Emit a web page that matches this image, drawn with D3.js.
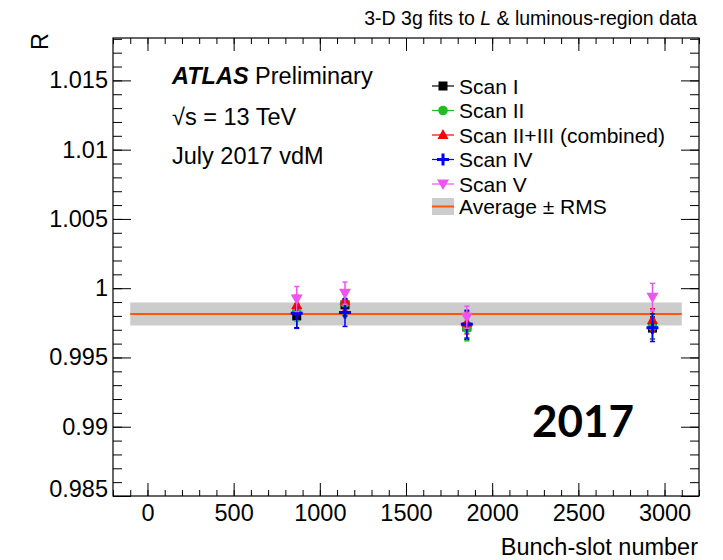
<!DOCTYPE html>
<html>
<head>
<meta charset="utf-8">
<script src="https://cdn.jsdelivr.net/npm/d3@7"></script>
<style>
  body { margin: 0; background: #fff; }
  svg { font-family: "Liberation Sans", Arial, sans-serif; }
  .axis path { display: none; }
  .axis line { stroke: #000; stroke-width: 1; }
  .axis text { font-size: 23.5px; fill: #000; font-family: "Liberation Sans", Arial, sans-serif; }
</style>
</head>
<body>
<div id="chart"></div>
<script>
// bunch slots that were measured
var bunchSlots = [866, 1146, 1853, 2930];

// R per scan
var scanI    = [0.99800, 0.99880, 0.99720, 0.99712];
var scanII   = [0.99843, 0.99892, 0.99710, 0.99722];
var scanII3  = [0.99879, 0.99910, 0.99750, 0.99771];
var scanIV   = [0.99820, 0.99824, 0.99740, 0.99715];
var scanV    = [0.99922, 0.99964, 0.99790, 0.99935];

// errors
var errI    = [0.00085, 0.0008, 0.0009, 0.0008];
var errII   = [0.0008, 0.0008, 0.0009, 0.0009];
var errII3  = [0.0007, 0.0007, 0.0008, 0.0008];
var errIV   = [0.0011, 0.0010, 0.0010, 0.0010];
var errV    = [0.0009, 0.0008, 0.0008, 0.0010];

var scanNames  = ["Scan I", "Scan II", "Scan II+III (combined)", "Scan IV", "Scan V"];
var scanColors = ["#000000", "#22bb22", "#ff0000", "#0000ff", "#ee55ee"];
var scanShapes = ["square", "circle", "triUp", "cross", "triDown"];

var average = 0.99814;
var rms = 0.00083;
var bandRange = [-100, 3100];

var xTicks = [0, 500, 1000, 1500, 2000, 2500, 3000];
var yTicks = [0.985, 0.99, 0.995, 1, 1.005, 1.01, 1.015];

var series = [scanI, scanII, scanII3, scanIV, scanV];
var errors = [errI, errII, errII3, errIV, errV];

var W = 723, H = 560;
var pLeft = 113, pRight = 699, pTop = 38, pBottom = 496;

var x = d3.scaleLinear().domain([-200, 3200]).range([pLeft, pRight]);
var y = d3.scaleLinear().domain([0.985, 1.01806]).range([pBottom, pTop]);

var svg = d3.select("#chart").append("svg")
  .attr("width", W)
  .attr("height", H);

// average +- rms band
svg.append("rect")
  .attr("x", x(bandRange[0]))
  .attr("y", y(average + rms))
  .attr("width", x(bandRange[1]) - x(bandRange[0]))
  .attr("height", y(average - rms) - y(average + rms))
  .attr("fill", "#cccccc");

svg.append("line")
  .attr("x1", x(bandRange[0])).attr("x2", x(bandRange[1]))
  .attr("y1", y(average)).attr("y2", y(average))
  .attr("stroke", "#ff5511").attr("stroke-width", 2);

// axes, ticks pointing inwards like ROOT
var xMinor = d3.range(-200, 3201, 100);
var yMinor = d3.range(0, 34).map(function(i){ return +(0.985 + i * 0.001).toFixed(3); });

svg.append("g").attr("class", "axis")
  .attr("transform", "translate(0," + pBottom + ")")
  .call(d3.axisBottom(x).tickValues(xTicks).tickSizeInner(-13).tickSizeOuter(0).tickPadding(8).tickFormat(d3.format("d")));
svg.append("g").attr("class", "axis")
  .attr("transform", "translate(0," + pBottom + ")")
  .call(d3.axisBottom(x).tickValues(xMinor).tickSizeInner(-6).tickSizeOuter(0).tickFormat(""));
svg.append("g").attr("class", "axis")
  .attr("transform", "translate(0," + pTop + ")")
  .call(d3.axisTop(x).tickValues(xTicks).tickSizeInner(-13).tickSizeOuter(0).tickFormat(""));
svg.append("g").attr("class", "axis")
  .attr("transform", "translate(0," + pTop + ")")
  .call(d3.axisTop(x).tickValues(xMinor).tickSizeInner(-6).tickSizeOuter(0).tickFormat(""));

var yAxis = svg.append("g").attr("class", "axis")
  .attr("transform", "translate(" + pLeft + ",0)")
  .call(d3.axisLeft(y).tickValues(yTicks).tickSizeInner(-18).tickSizeOuter(0).tickPadding(5).tickFormat(function(d){ return String(+d.toFixed(3)); }));
// lowest label sits a little higher in the original
yAxis.selectAll(".tick text").filter(function(d){ return d === 0.985; }).attr("dy", "0.02em");

svg.append("g").attr("class", "axis")
  .attr("transform", "translate(" + pLeft + ",0)")
  .call(d3.axisLeft(y).tickValues(yMinor).tickSizeInner(-9).tickSizeOuter(0).tickFormat(""));
svg.append("g").attr("class", "axis")
  .attr("transform", "translate(" + pRight + ",0)")
  .call(d3.axisRight(y).tickValues(yTicks).tickSizeInner(-18).tickSizeOuter(0).tickFormat(""));
svg.append("g").attr("class", "axis")
  .attr("transform", "translate(" + pRight + ",0)")
  .call(d3.axisRight(y).tickValues(yMinor).tickSizeInner(-9).tickSizeOuter(0).tickFormat(""));

// frame
svg.append("rect")
  .attr("x", pLeft).attr("y", pTop)
  .attr("width", pRight - pLeft).attr("height", pBottom - pTop)
  .attr("fill", "none").attr("stroke", "#000").attr("stroke-width", 1.2);

// marker drawing
function drawMarker(g, shape, color, cx, cy) {
  if (shape === "square") {
    g.append("rect").attr("x", cx - 4.5).attr("y", cy - 4.5).attr("width", 9).attr("height", 9).attr("fill", color);
  } else if (shape === "circle") {
    g.append("circle").attr("cx", cx).attr("cy", cy).attr("r", 4.8).attr("fill", color);
  } else if (shape === "triUp") {
    g.append("path").attr("d", "M" + cx + "," + (cy - 6) + "L" + (cx + 5.5) + "," + (cy + 4) + "L" + (cx - 5.5) + "," + (cy + 4) + "Z").attr("fill", color);
  } else if (shape === "triDown") {
    g.append("path").attr("d", "M" + cx + "," + (cy + 6) + "L" + (cx + 6) + "," + (cy - 4.5) + "L" + (cx - 6) + "," + (cy - 4.5) + "Z").attr("fill", color);
  } else if (shape === "cross") {
    g.append("path").attr("d", "M" + (cx - 6) + "," + cy + "L" + (cx + 6) + "," + cy + "M" + cx + "," + (cy - 6) + "L" + cx + "," + (cy + 6))
      .attr("stroke", color).attr("stroke-width", 3);
  }
}

// data points with error bars
series.forEach(function(vals, s) {
  var g = svg.append("g");
  var color = scanColors[s];
  vals.forEach(function(v, i) {
    var cx = x(bunchSlots[i]);
    var e = errors[s][i];
    g.append("line")
      .attr("x1", cx).attr("x2", cx)
      .attr("y1", y(v + e)).attr("y2", y(v - e))
      .attr("stroke", color).attr("stroke-width", 1.5);
    [v + e, v - e].forEach(function(c) {
      g.append("line")
        .attr("x1", cx - 2.5).attr("x2", cx + 2.5)
        .attr("y1", y(c)).attr("y2", y(c))
        .attr("stroke", color).attr("stroke-width", 1.5);
    });
    drawMarker(g, scanShapes[s], color, cx, y(v));
  });
});

// legend
var leg = svg.append("g");
var legX = 432, legY = 86, legStep = 24.5;
scanNames.forEach(function(name, i) {
  var yy = legY + i * legStep;
  leg.append("line").attr("x1", legX).attr("x2", legX + 22).attr("y1", yy).attr("y2", yy)
    .attr("stroke", scanColors[i]).attr("stroke-width", 1.2);
  drawMarker(leg, scanShapes[i], scanColors[i], legX + 11, yy);
  leg.append("text").attr("x", legX + 27).attr("y", yy).attr("dy", "0.36em")
    .attr("font-size", 21).text(name);
});
var avgY = legY + 5 * legStep - 2;
leg.append("rect").attr("x", legX).attr("y", avgY - 8.5).attr("width", 22).attr("height", 17).attr("fill", "#cccccc");
leg.append("line").attr("x1", legX).attr("x2", legX + 22).attr("y1", avgY).attr("y2", avgY)
  .attr("stroke", "#ff5511").attr("stroke-width", 2);
leg.append("text").attr("x", legX + 27).attr("y", avgY).attr("dy", "0.36em")
  .attr("font-size", 21).text("Average \u00b1 RMS");

// labels
var atlas = svg.append("text").attr("x", 172).attr("y", 83.5).attr("font-size", 23.5);
atlas.append("tspan").attr("font-weight", "bold").attr("font-style", "italic").text("ATLAS");
atlas.append("tspan").text(" Preliminary");
svg.append("text").attr("x", 172).attr("y", 125).attr("font-size", 23.5).text("\u221as = 13 TeV");
svg.append("text").attr("x", 172).attr("y", 163.5).attr("font-size", 23.5).text("July 2017 vdM");

var title = svg.append("text").attr("x", 697).attr("y", 25).attr("text-anchor", "end").attr("font-size", 19.5);
title.append("tspan").text("3-D 3g fits to ");
title.append("tspan").attr("font-style", "italic").text("L");
title.append("tspan").text(" & luminous-region data");

svg.append("text").attr("x", 698).attr("y", 555).attr("text-anchor", "end").attr("font-size", 23.5).text("Bunch-slot number");

svg.append("text").attr("transform", "translate(48,33) rotate(-90)")
  .attr("text-anchor", "end").attr("font-size", 23.5).text("R");

svg.append("text").attr("x", 532).attr("y", 437)
  .attr("font-family", "Lato, 'Liberation Sans', sans-serif").attr("font-weight", "bold")
  .attr("font-size", 44).text("2017");
</script>
</body>
</html>
